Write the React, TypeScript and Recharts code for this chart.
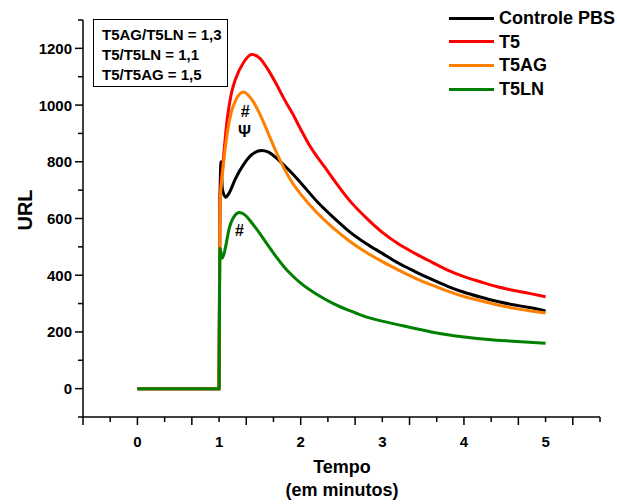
import { LineChart, Line, XAxis, YAxis, ReferenceDot } from 'recharts';

type Pt = { t: number; v: number };

const pts = (rows: number[][]): Pt[] => rows.map(([t, v]) => ({ t, v }));

// Luminescence (URL) over time in minutes; injection at t = 1
const CONTROLE_PBS = pts([
  [0, 0], [0.5, 0], [1.0, 0], [1.01, 650], [1.025, 800], [1.04, 705], [1.08, 675], [1.12, 688],
  [1.2, 740], [1.3, 790], [1.4, 825], [1.52, 840], [1.6, 835], [1.7, 814], [1.8, 787],
  [1.9, 758], [2.0, 726], [2.2, 660], [2.4, 604], [2.6, 553], [2.8, 512], [3.0, 477],
  [3.2, 442], [3.4, 413], [3.6, 386], [3.8, 361], [4.0, 340], [4.2, 323], [4.4, 308],
  [4.6, 296], [4.8, 286], [5.0, 274],
]);

const T5 = pts([
  [0, 0], [0.5, 0], [1.0, 0], [1.01, 660], [1.05, 800], [1.1, 950], [1.15, 1040], [1.2, 1090],
  [1.3, 1150], [1.4, 1178], [1.5, 1165], [1.6, 1125], [1.7, 1075], [1.8, 1020], [1.9, 970],
  [2.0, 915], [2.1, 862], [2.3, 779], [2.6, 663], [2.8, 603], [3.0, 551], [3.2, 510],
  [3.4, 477], [3.6, 447], [3.8, 418], [4.0, 395], [4.2, 377], [4.4, 360], [4.6, 347],
  [4.8, 336], [5.0, 324],
]);

const T5AG = pts([
  [0, 0], [0.5, 0], [1.0, 0], [1.01, 640], [1.05, 780], [1.1, 900], [1.15, 975], [1.2, 1015],
  [1.3, 1046], [1.4, 1020], [1.5, 968], [1.6, 902], [1.7, 835], [1.8, 775], [1.9, 725],
  [2.0, 686], [2.2, 620], [2.4, 566], [2.6, 520], [2.8, 481], [3.0, 448], [3.2, 418],
  [3.4, 390], [3.6, 366], [3.8, 344], [4.0, 325], [4.2, 310], [4.4, 296], [4.6, 284],
  [4.8, 275], [5.0, 267],
]);

const T5LN = pts([
  [0, 0], [0.5, 0], [1.0, 0], [1.01, 495], [1.04, 460], [1.08, 500], [1.12, 560], [1.18, 605],
  [1.25, 621], [1.32, 612], [1.4, 585], [1.5, 547], [1.6, 505], [1.7, 465], [1.8, 428],
  [1.9, 398], [2.0, 372], [2.2, 332], [2.4, 300], [2.6, 275], [2.8, 253], [3.0, 238],
  [3.2, 225], [3.4, 212], [3.6, 200], [3.8, 190], [4.0, 182], [4.2, 176], [4.4, 171],
  [4.6, 167], [4.8, 164], [5.0, 160],
]);

const SERIES = [
  { name: 'Controle PBS', color: '#000000', data: CONTROLE_PBS },
  { name: 'T5', color: '#ff0000', data: T5 },
  { name: 'T5AG', color: '#ff8000', data: T5AG },
  { name: 'T5LN', color: '#008000', data: T5LN },
];

const RATIOS = ['T5AG/T5LN = 1,3', 'T5/T5LN = 1,1', 'T5/T5AG = 1,5'];

// significance marks placed next to the peaks
const MARKS = [
  { t: 1.32, v: 976, text: '#' },
  { t: 1.31, v: 906, text: 'Ψ' },
  { t: 1.25, v: 556, text: '#' },
];

const X_DOMAIN = [-2 / 3, 17 / 3];
const X_TICKS = Array.from({ length: 20 }, (_, i) => (i - 2) / 3);
const X_LABELS = [0, 1, 2, 3, 4, 5];
const Y_TICKS = Array.from({ length: 15 }, (_, i) => -100 + i * 100);
const Y_LABELS = [0, 200, 400, 600, 800, 1000, 1200];

const FONT = '"Liberation Sans", Arial, sans-serif';

const XTick = ({ x, y, payload }: any) => {
  const v = payload.value as number;
  const step = Math.round(v * 3);
  const long = step % 2 === 0;
  const label = X_LABELS.find((n) => Math.abs(n - v) < 1e-6);
  return (
    <g>
      <line x1={x} x2={x} y1={y} y2={y + (long ? 8 : 5)} stroke="#000" strokeWidth={1.5} />
      {label !== undefined && (
        <text x={x} y={y + 24} textAnchor="middle" dominantBaseline="central" fontFamily={FONT} fontWeight="bold" fontSize={15} fill="#000">
          {label}
        </text>
      )}
    </g>
  );
};

const YTick = ({ x, y, payload }: any) => {
  const v = payload.value as number;
  const long = v % 200 === 0;
  const show = Y_LABELS.includes(v);
  return (
    <g>
      <line x1={x - (long ? 8 : 5)} x2={x} y1={y} y2={y} stroke="#000" strokeWidth={1.5} />
      {show && (
        <text x={x - 11} y={y} textAnchor="end" dominantBaseline="central" fontFamily={FONT} fontWeight="bold" fontSize={15} fill="#000">
          {v}
        </text>
      )}
    </g>
  );
};

const MarkText = (text: string) => (props: any) => (
  <text x={props.cx} y={props.cy} textAnchor="middle" dominantBaseline="central" fontFamily={FONT} fontWeight="bold" fontSize={16} fill="#000">
    {text}
  </text>
);

export default function App() {
  return (
    <div style={{ position: 'fixed', left: 0, top: 0, width: 617, height: 504, background: '#fff', fontFamily: FONT }}>
      <LineChart width={617} height={504} margin={{ top: 20, right: 17, left: 0, bottom: 57 }}>
        <XAxis
          type="number"
          dataKey="t"
          domain={X_DOMAIN}
          ticks={X_TICKS}
          interval={0}
          allowDataOverflow
          height={30}
          tickSize={0}
          tickMargin={0}
          tick={<XTick />}
          axisLine={{ stroke: '#000', strokeWidth: 1.5 }}
        />
        <YAxis
          type="number"
          dataKey="v"
          domain={[-100, 1300]}
          ticks={Y_TICKS}
          interval={0}
          allowDataOverflow
          width={83}
          tickSize={0}
          tickMargin={0}
          tick={<YTick />}
          axisLine={{ stroke: '#000', strokeWidth: 1.5 }}
        />
        {SERIES.map((s) => (
          <Line
            key={s.name}
            data={s.data}
            dataKey="v"
            name={s.name}
            type="monotone"
            stroke={s.color}
            strokeWidth={3}
            dot={false}
            activeDot={false}
            isAnimationActive={false}
          />
        ))}
        {MARKS.map((m, i) => (
          <ReferenceDot key={i} x={m.t} y={m.v} r={0} shape={MarkText(m.text)} />
        ))}
      </LineChart>

      {/* ratio box */}
      <div
        style={{
          position: 'absolute', left: 93, top: 19, width: 135, height: 68,
          border: '1px solid #000', boxSizing: 'border-box',
        }}
      >
        {RATIOS.map((r, i) => (
          <div key={r} style={{ position: 'absolute', left: 8, top: 6 + i * 20, fontSize: 15, fontWeight: 'bold', lineHeight: '18px', whiteSpace: 'nowrap' }}>
            {r}
          </div>
        ))}
      </div>

      {/* legend */}
      {SERIES.map((s, i) => (
        <div key={s.name} style={{ position: 'absolute', left: 449, top: 7 + i * 23.7, height: 22, display: 'flex', alignItems: 'center', whiteSpace: 'nowrap' }}>
          <div style={{ width: 45, height: 3, background: s.color, marginRight: 5 }} />
          <span style={{ fontSize: 18, fontWeight: 'bold', lineHeight: '22px' }}>{s.name}</span>
        </div>
      ))}

      {/* axis titles */}
      <div style={{ position: 'absolute', left: 25, top: 210, transform: 'translate(-50%, -50%) rotate(-90deg)', fontSize: 20, fontWeight: 'bold', lineHeight: '22px' }}>
        URL
      </div>
      <div style={{ position: 'absolute', left: 242, width: 200, top: 456, textAlign: 'center', fontSize: 18, fontWeight: 'bold', lineHeight: '23px' }}>
        Tempo
        <br />
        (em minutos)
      </div>
    </div>
  );
}
